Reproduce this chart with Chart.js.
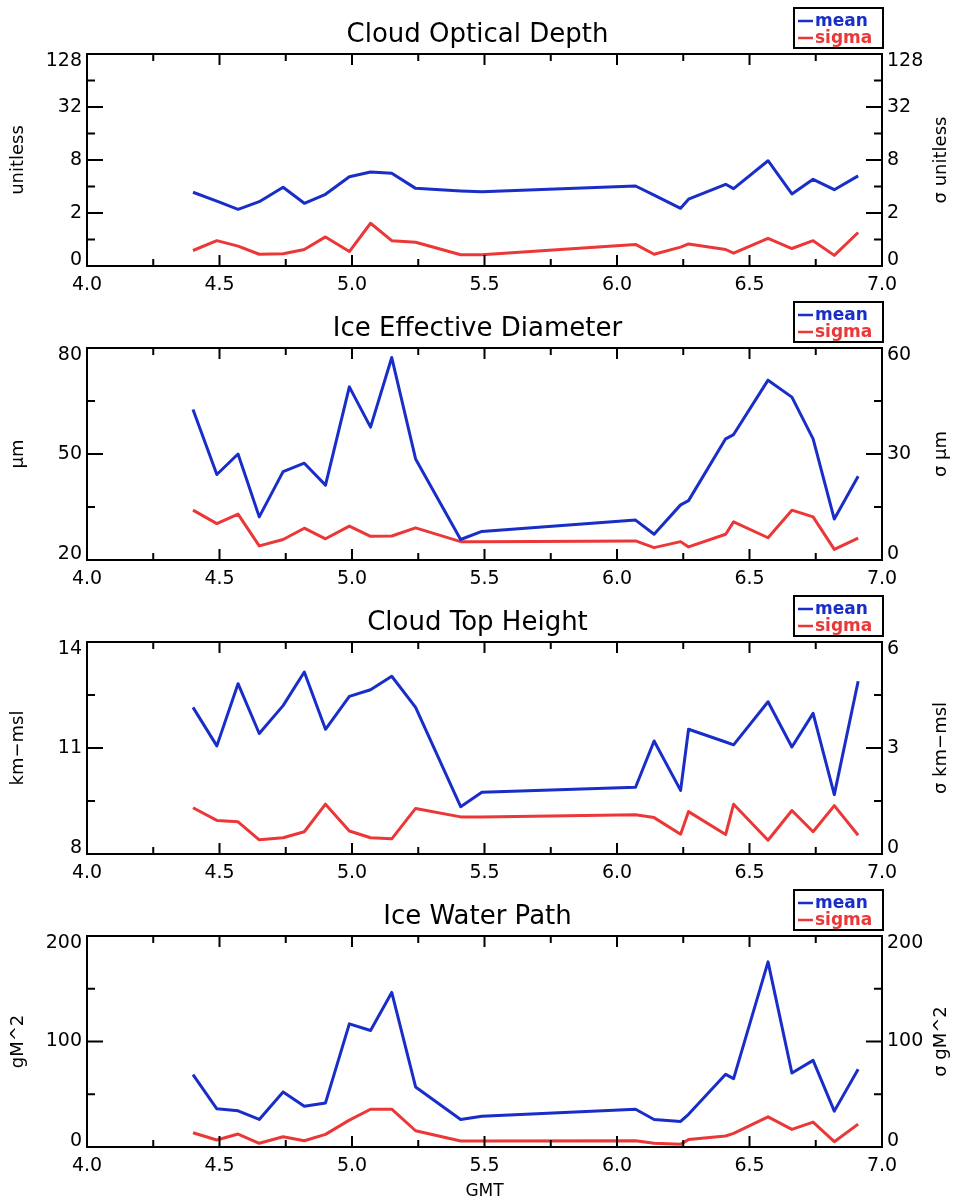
<!DOCTYPE html>
<html>
<head>
<meta charset="utf-8">
<script src="https://cdn.jsdelivr.net/npm/chart.js@4.4.1/dist/chart.umd.min.js"></script>
<style>
  body { margin: 0; background: #fff; }
  canvas { display: block; }
</style>
</head>
<body>
<canvas id="c1" width="955" height="294"></canvas>
<canvas id="c2" width="955" height="294"></canvas>
<canvas id="c3" width="955" height="294"></canvas>
<canvas id="c4" width="955" height="320"></canvas>
<script>
// time axis (GMT hours) shared by all four panels
const gmt = [4.40, 4.49, 4.57, 4.65, 4.74, 4.82, 4.90, 4.99, 5.07, 5.15, 5.24, 5.41,
             5.49, 6.07, 6.14, 6.24, 6.27, 6.41, 6.44, 6.57, 6.66, 6.74, 6.82, 6.91];
const gmtTicks = [4.0, 4.5, 5.0, 5.5, 6.0, 6.5, 7.0];

// cloud optical depth
const codMean  = [3.44, 2.73, 2.20, 2.69, 3.92, 2.58, 3.26, 5.17, 5.85, 5.66, 3.81, 3.56,
                  3.48, 4.05, 3.20, 2.26, 2.87, 4.24, 3.78, 7.85, 3.29, 4.83, 3.68, 5.28];
const codSigma = [0.75, 0.97, 0.84, 0.68, 0.69, 0.77, 1.07, 0.73, 1.53, 0.97, 0.93, 0.67,
                  0.67, 0.88, 0.68, 0.82, 0.89, 0.77, 0.70, 1.03, 0.79, 0.97, 0.66, 1.20];
const codTicks = [0.5, 2, 8, 32, 128];
const codTickLabels = ['0', '2', '8', '32', '128'];

// ice effective diameter
const iedMean  = [62.6, 44.2, 50.0, 32.2, 45.0, 47.4, 41.2, 69.0, 57.6, 77.3, 48.6, 25.8,
                  28.1, 31.3, 27.3, 35.6, 36.8, 54.3, 55.5, 70.9, 66.1, 54.3, 31.6, 43.7];
const iedSigma = [14.1, 10.3, 13.0, 4.0, 5.8, 9.0, 6.0, 9.6, 6.7, 6.8, 9.1, 5.2,
                  5.2, 5.4, 3.5, 5.2, 3.7, 7.3, 10.8, 6.3, 14.1, 12.2, 3.0, 6.2];
const iedTicks = [20, 50, 80];
const iedSigmaTicks = [0, 30, 60];

// cloud top height
const cthMean  = [12.15, 11.06, 12.82, 11.41, 12.20, 13.15, 11.53, 12.46, 12.65, 13.03, 12.15, 9.34,
                  9.75, 9.89, 11.20, 9.80, 11.53, 11.17, 11.09, 12.31, 11.03, 11.98, 9.68, 12.89];
const cthSigma = [1.31, 0.95, 0.91, 0.40, 0.46, 0.63, 1.41, 0.65, 0.46, 0.43, 1.29, 1.05,
                  1.05, 1.11, 1.03, 0.56, 1.20, 0.55, 1.41, 0.39, 1.23, 0.63, 1.37, 0.53];
const cthTicks = [8, 11, 14];
const cthSigmaTicks = [0, 3, 6];

// ice water path
const iwpMean  = [68.6, 36.2, 34.3, 26.1, 52.2, 38.7, 41.8, 116.7, 110.4, 146.5, 56.9, 26.1,
                  29.2, 35.8, 26.1, 24.2, 31.0, 68.9, 64.8, 175.5, 70.1, 82.1, 34.0, 73.6];
const iwpSigma = [13.5, 6.6, 12.3, 3.5, 9.7, 5.9, 12.0, 25.5, 35.8, 35.8, 15.4, 5.7,
                  5.7, 5.9, 3.5, 2.5, 7.2, 10.4, 12.9, 28.6, 16.7, 23.6, 5.0, 21.7];
const iwpTicks = [0, 100, 200];
const iwpSigmaTicks = [0, 100, 200];

const meanColor = '#192dc8';
const sigmaColor = '#eb3737';

Chart.defaults.font.family = "'DejaVu Sans', sans-serif";
Chart.defaults.color = '#000';
Chart.defaults.animation = false;

function pts(ys) {
  return gmt.map((t, i) => ({ x: t, y: ys[i] }));
}

// midpoints between major ticks (geometric on log axes)
function minorOf(ticks, log) {
  const out = [];
  for (let i = 0; i < ticks.length - 1; i++) {
    out.push(log ? Math.sqrt(ticks[i] * ticks[i + 1]) : (ticks[i] + ticks[i + 1]) / 2);
  }
  return out;
}

// IDL style box: frame, inward ticks, boxed legend, right axis title
const idlFrame = {
  id: 'idlFrame',
  beforeDraw(chart) {
    // top/bottom y labels sit inside the frame
    ['y', 'y1'].forEach(id => {
      const s = chart.scales[id];
      s.getLabelItems(chart.chartArea).forEach((it, i) => {
        if (it._moved) return;
        const v = s.ticks[i].value;
        if (v === s.max) it.options.translation[1] += 7;
        if (v === s.min) it.options.translation[1] -= 6;
        it._moved = true;
      });
    });
  },
  afterDatasetsDraw(chart, args, opts) {
    const { ctx, chartArea: a, scales } = chart;
    ctx.save();
    ctx.strokeStyle = '#000';
    ctx.lineWidth = 2;
    ctx.strokeRect(a.left, a.top, a.right - a.left, a.bottom - a.top);

    ctx.beginPath();
    const mark = (x1, y1, x2, y2) => { ctx.moveTo(x1, y1); ctx.lineTo(x2, y2); };
    const xs = scales.x;
    gmtTicks.forEach(v => {
      const px = xs.getPixelForValue(v);
      mark(px, a.bottom, px, a.bottom - 11);
      mark(px, a.top, px, a.top + 11);
    });
    minorOf(gmtTicks).forEach(v => {
      const px = xs.getPixelForValue(v);
      mark(px, a.bottom, px, a.bottom - 7);
      mark(px, a.top, px, a.top + 7);
    });
    [['y', a.left, 1], ['y1', a.right, -1]].forEach(([id, x0, dir]) => {
      const s = scales[id];
      const major = s.ticks.map(t => t.value);
      major.forEach(v => {
        const py = s.getPixelForValue(v);
        mark(x0, py, x0 + dir * 16, py);
      });
      minorOf(major, s.type === 'logarithmic').forEach(v => {
        const py = s.getPixelForValue(v);
        mark(x0, py, x0 + dir * 8, py);
      });
    });
    ctx.stroke();

    // legend box
    const bw = 89, bh = 40;
    const bx = a.right + 1 - bw, by = a.top - 6 - bh;
    ctx.lineWidth = 2;
    ctx.strokeRect(bx, by, bw, bh);
    ctx.font = "bold 17px 'DejaVu Sans', sans-serif";
    ctx.textAlign = 'left';
    ctx.textBaseline = 'alphabetic';
    chart.data.datasets.forEach((ds, i) => {
      const base = by + 18 + i * 17;
      ctx.strokeStyle = ds.borderColor;
      ctx.lineWidth = 2.5;
      ctx.beginPath();
      ctx.moveTo(bx + 4, base - 5);
      ctx.lineTo(bx + 19, base - 5);
      ctx.stroke();
      ctx.fillStyle = ds.borderColor;
      ctx.fillText(ds.label, bx + 21, base);
    });

    // right axis title, reading bottom to top
    ctx.fillStyle = '#000';
    ctx.font = "18px 'DejaVu Sans', sans-serif";
    ctx.textAlign = 'center';
    ctx.textBaseline = 'middle';
    ctx.translate(chart.width - 14, (a.top + a.bottom) / 2);
    ctx.rotate(-Math.PI / 2);
    ctx.fillText(opts.text, 0, 0);
    ctx.restore();
  }
};

function yScale(pos, ticks, labels, log, unit) {
  return {
    type: log ? 'logarithmic' : 'linear',
    position: pos,
    min: ticks[0],
    max: ticks[ticks.length - 1],
    afterBuildTicks: s => { s.ticks = ticks.map(v => ({ value: v })); },
    afterFit: s => { s.width = pos === 'left' ? 87 : 73; },
    ticks: {
      callback: (v, i) => labels[i],
      font: { size: 19 },
      padding: 5,
      autoSkip: false
    },
    grid: { display: false, drawTicks: false },
    border: { display: false },
    title: {
      display: !!unit,
      text: unit,
      font: { size: 18 },
      padding: { top: 8, bottom: 0 }
    }
  };
}

function panel(id, cfg) {
  const last = !!cfg.xTitle;
  new Chart(document.getElementById(id), {
    type: 'line',
    data: {
      datasets: [
        { label: 'mean', data: pts(cfg.mean), yAxisID: 'y', borderColor: meanColor },
        { label: 'sigma', data: pts(cfg.sigma), yAxisID: 'y1', borderColor: sigmaColor }
      ].map(d => Object.assign(d, {
        borderWidth: 3, pointRadius: 0, tension: 0, fill: false, borderJoinStyle: 'round'
      }))
    },
    options: {
      responsive: false,
      layout: { padding: 0 },
      plugins: {
        legend: { display: false },
        tooltip: { enabled: false },
        title: {
          display: true,
          text: cfg.title,
          color: '#000',
          font: { size: 26, weight: 'normal', lineHeight: 1 },
          padding: { top: 22, bottom: 6 }
        },
        idlFrame: { text: cfg.sigmaUnit }
      },
      scales: {
        x: {
          type: 'linear',
          position: 'bottom',
          min: 4,
          max: 7,
          afterBuildTicks: s => { s.ticks = gmtTicks.map(v => ({ value: v })); },
          afterFit: s => { s.height = last ? 55 : 28; },
          ticks: {
            callback: v => v.toFixed(1),
            font: { size: 19 },
            padding: 8,
            maxRotation: 0,
            autoSkip: false
          },
          grid: { display: false, drawTicks: false },
          border: { display: false },
          title: {
            display: last,
            text: cfg.xTitle,
            font: { size: 17 },
            padding: { top: 0, bottom: 0 }
          }
        },
        y: yScale('left', cfg.ticks, cfg.labels, cfg.log, cfg.unit),
        y1: yScale('right', cfg.sigmaTicks, cfg.sigmaLabels, cfg.log, '')
      }
    },
    plugins: [idlFrame]
  });
}

const str = a => a.map(String);

panel('c1', {
  title: 'Cloud Optical Depth', unit: 'unitless', sigmaUnit: 'σ unitless', log: true,
  mean: codMean, sigma: codSigma,
  ticks: codTicks, labels: codTickLabels, sigmaTicks: codTicks, sigmaLabels: codTickLabels
});
panel('c2', {
  title: 'Ice Effective Diameter', unit: 'μm', sigmaUnit: 'σ μm',
  mean: iedMean, sigma: iedSigma,
  ticks: iedTicks, labels: str(iedTicks), sigmaTicks: iedSigmaTicks, sigmaLabels: str(iedSigmaTicks)
});
panel('c3', {
  title: 'Cloud Top Height', unit: 'km−msl', sigmaUnit: 'σ km−msl',
  mean: cthMean, sigma: cthSigma,
  ticks: cthTicks, labels: str(cthTicks), sigmaTicks: cthSigmaTicks, sigmaLabels: str(cthSigmaTicks)
});
panel('c4', {
  title: 'Ice Water Path', unit: 'gM^2', sigmaUnit: 'σ gM^2', xTitle: 'GMT',
  mean: iwpMean, sigma: iwpSigma,
  ticks: iwpTicks, labels: str(iwpTicks), sigmaTicks: iwpSigmaTicks, sigmaLabels: str(iwpSigmaTicks)
});
</script>
</body>
</html>
